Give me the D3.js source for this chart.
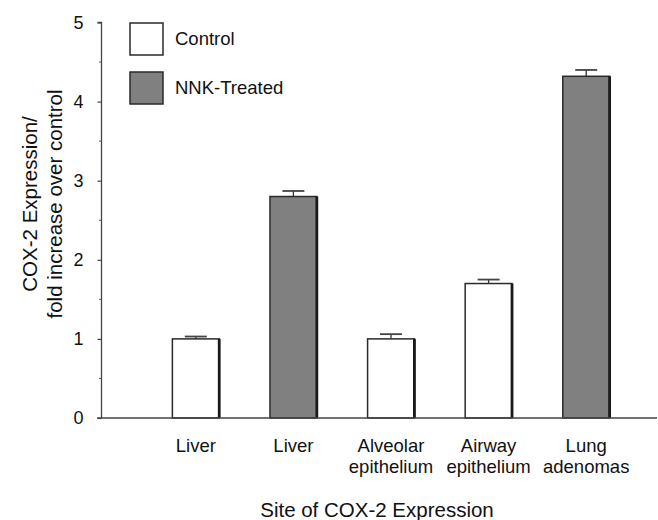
<!DOCTYPE html>
<html>
<head>
<meta charset="utf-8">
<script src="https://cdn.jsdelivr.net/npm/d3@7"></script>
<style>
	body { margin: 0; background: #fff; }
	text { font-family: "Liberation Sans", Arial, sans-serif; fill: #111; }
</style>
</head>
<body>
<script>
//chart values
var categories = [["Liver"], ["Liver"], ["Alveolar", "epithelium"], ["Airway", "epithelium"], ["Lung", "adenomas"]];
var groups = ["Control", "NNK-Treated", "Control", "Control", "NNK-Treated"];
var values = [1.0, 2.8, 1.0, 1.7, 4.32];
var errors = [0.03, 0.07, 0.06, 0.05, 0.08];
var yTicks = [0, 1, 2, 3, 4, 5];
var seriesNames = ["Control", "NNK-Treated"];

window.onload = function(){
	var w = 658, h = 520;

	var svg = d3.select("body")
		.append("svg")
		.attr("width", w)
		.attr("height", h);

	var color = d3.scaleOrdinal()
		.domain(seriesNames)
		.range(["#ffffff", "#808080"]);

	//y scale, 0 at the x axis line
	var y = d3.scaleLinear()
		.domain([0, 5])
		.range([418, 22.5]);

	//bands for the five bars
	var x = d3.scaleBand()
		.domain(d3.range(values.length))
		.range([147, 635])
		.paddingInner(0.52)
		.paddingOuter(0.26);

	//y axis: major ticks with labels, minor ticks at the halves
	var yAxis = svg.append("g")
		.attr("transform", "translate(101.5,0)")
		.call(d3.axisLeft(y).tickValues(yTicks).tickSize(4).tickPadding(14).tickFormat(d3.format("d")));
	yAxis.select(".domain").attr("d", "M-4," + y(5) + "H0V" + y(0)).attr("stroke", "#444").attr("stroke-width", 1.3);
	yAxis.selectAll(".tick line").attr("stroke", "#444").attr("stroke-width", 1.2);
	yAxis.selectAll(".tick text").style("font-size", "18px").style("font-family", "Liberation Sans, Arial, sans-serif").attr("fill", "#111");

	yAxis.selectAll(".minor")
		.data(d3.range(0.5, 5, 1))
		.enter()
		.append("line")
		.attr("class", "minor")
		.attr("x1", -2.5)
		.attr("x2", 0)
		.attr("y1", function(d){ return y(d); })
		.attr("y2", function(d){ return y(d); })
		.attr("stroke", "#555")
		.attr("stroke-width", 1);

	//bars
	var bars = svg.selectAll(".bar")
		.data(values)
		.enter()
		.append("g")
		.attr("class", "bar");

	bars.append("rect")
		.attr("x", function(d, i){ return x(i); })
		.attr("y", function(d){ return y(d); })
		.attr("width", x.bandwidth())
		.attr("height", function(d){ return y(0) - y(d); })
		.attr("fill", function(d, i){ return color(groups[i]); })
		.attr("stroke", "#2a2a2a")
		.attr("stroke-width", 1.5);

	//darker right edge
	bars.append("line")
		.attr("x1", function(d, i){ return x(i) + x.bandwidth(); })
		.attr("x2", function(d, i){ return x(i) + x.bandwidth(); })
		.attr("y1", function(d){ return y(d); })
		.attr("y2", y(0))
		.attr("stroke", "#1a1a1a")
		.attr("stroke-width", 2.8);

	//error bars (upper only)
	bars.append("line")
		.attr("x1", function(d, i){ return x(i) + x.bandwidth() / 2; })
		.attr("x2", function(d, i){ return x(i) + x.bandwidth() / 2; })
		.attr("y1", function(d){ return y(d); })
		.attr("y2", function(d, i){ return y(d + errors[i]); })
		.attr("stroke", "#333")
		.attr("stroke-width", 1.3);
	bars.append("line")
		.attr("x1", function(d, i){ return x(i) + x.bandwidth() / 2 - 11; })
		.attr("x2", function(d, i){ return x(i) + x.bandwidth() / 2 + 11; })
		.attr("y1", function(d, i){ return y(d + errors[i]); })
		.attr("y2", function(d, i){ return y(d + errors[i]); })
		.attr("stroke", "#444")
		.attr("stroke-width", 1.8);

	//x axis line
	svg.append("line")
		.attr("x1", 97)
		.attr("x2", 657)
		.attr("y1", y(0))
		.attr("y2", y(0))
		.attr("stroke", "#444")
		.attr("stroke-width", 1.5);

	//category labels
	var labels = svg.selectAll(".catLabel")
		.data(categories)
		.enter()
		.append("text")
		.attr("class", "catLabel")
		.attr("text-anchor", "middle")
		.attr("y", 452)
		.style("font-size", "18.5px");
	labels.selectAll("tspan")
		.data(function(d, i){ return d.map(function(s){ return {s: s, i: i}; }); })
		.enter()
		.append("tspan")
		.attr("x", function(d){ return x(d.i) + x.bandwidth() / 2; })
		.attr("dy", function(d, j){ return j === 0 ? 0 : 21; })
		.text(function(d){ return d.s; });

	//axis titles
	svg.append("text")
		.attr("text-anchor", "middle")
		.attr("x", 377)
		.attr("y", 517)
		.style("font-size", "20.5px")
		.text("Site of COX-2 Expression");

	var yTitle = svg.append("text")
		.attr("text-anchor", "middle")
		.attr("transform", "translate(37,204) rotate(-90)")
		.style("font-size", "20.5px");
	yTitle.append("tspan").attr("x", 0).attr("dy", 0).text("COX-2 Expression/");
	yTitle.append("tspan").attr("x", 0).attr("dy", 25).text("fold increase over control");

	//legend
	var legend = svg.selectAll(".legend")
		.data(seriesNames)
		.enter()
		.append("g")
		.attr("class", "legend")
		.attr("transform", function(d, i){ return "translate(130," + (23 + i * 49) + ")"; });
	legend.append("rect")
		.attr("width", 33)
		.attr("height", 32)
		.attr("fill", function(d){ return color(d); })
		.attr("stroke", "#2a2a2a")
		.attr("stroke-width", 1.5);
	legend.append("text")
		.attr("x", 45)
		.attr("y", 22)
		.style("font-size", "18.5px")
		.text(function(d){ return d; });
};
</script>
</body>
</html>
